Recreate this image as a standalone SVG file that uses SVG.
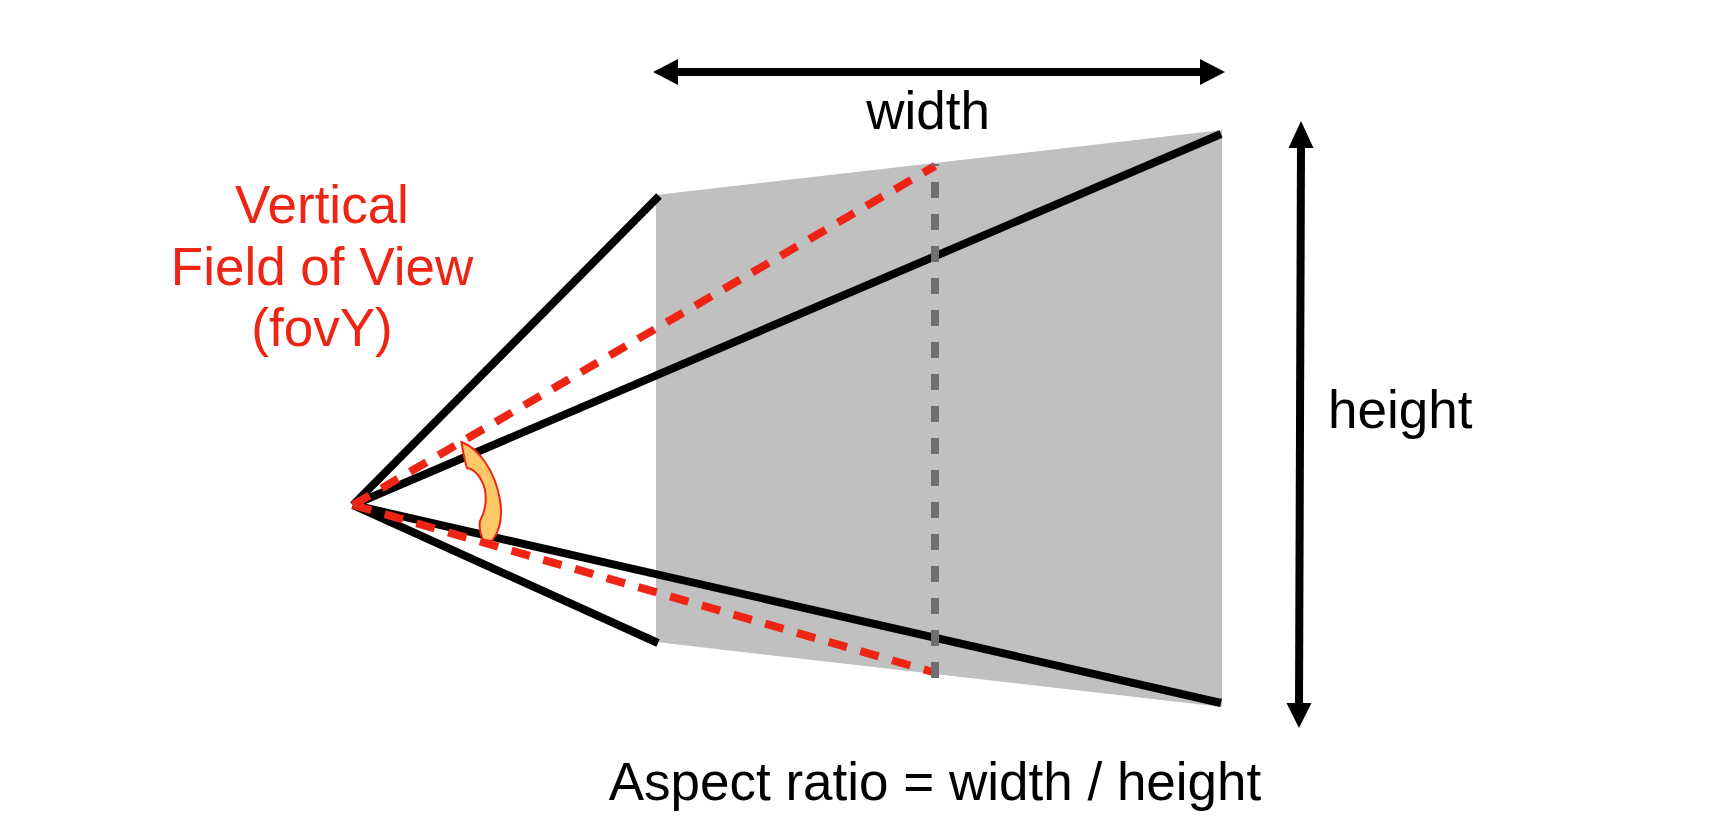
<svg xmlns="http://www.w3.org/2000/svg" width="1730" height="834" viewBox="0 0 1730 834">
<style>
.blk{stroke:#000;stroke-width:8;fill:none;stroke-linecap:butt}
.red{stroke:#ee2515;stroke-width:8;fill:none;stroke-dasharray:19 14}
.gdash{stroke:#6f6f6f;stroke-width:8;fill:none;stroke-dasharray:16 16;stroke-dashoffset:14}
.t{font-family:"Liberation Sans",Arial,sans-serif;font-size:53px}
.tr{fill:#ee2515}
</style>
<rect width="1730" height="834" fill="#fff"/>
<g id="plane">
<polygon points="656,195 1222,130 1222,707 656,642" fill="#c0c0c0"/>
</g>
<g id="connectors">
<line class="blk" x1="353" y1="505" x2="659" y2="196"/>
<line class="blk" x1="353" y1="505" x2="658" y2="643"/>
<line class="blk" x1="353" y1="505" x2="1221" y2="134"/>
<line class="blk" x1="353" y1="505" x2="1221" y2="703"/>
</g>
<g id="angle">
<path d="M461.5 442 C478 448,495 470,500 500 C503 518,499 532,492 541 L483 540 C480 533,479 526,480 521 C484 514,487 503,485 490 C482 478,475 469,467 468 C465 462,463 452,461.5 442 Z" fill="#ffc866" stroke="#ee2515" stroke-width="2"/>
</g>
<g id="fov-rays">
<line class="red" x1="353" y1="505" x2="935" y2="166"/>
<line class="red" x1="353" y1="505" x2="933" y2="672"/>
</g>
<g id="center-line">
<line class="gdash" x1="935" y1="164" x2="935" y2="678"/>
</g>
<g id="width-arrow">
<line x1="676" y1="72" x2="1202" y2="72" stroke="#000" stroke-width="8"/>
<polygon points="653,72 678,59 678,85" fill="#000"/>
<polygon points="1225,72 1200,59 1200,85" fill="#000"/>
<text class="t" x="928" y="129" text-anchor="middle">width</text>
</g>
<g id="height-arrow">
<line x1="1301" y1="146" x2="1299" y2="705" stroke="#000" stroke-width="8"/>
<polygon points="1301,121 1313.5,148 1288.5,148" fill="#000"/>
<polygon points="1299,728 1311.5,703 1286.5,703" fill="#000"/>
<text class="t" x="1328" y="428">height</text>
</g>
<g id="fov-label">
<text class="t tr" x="322" y="223" text-anchor="middle">Vertical</text>
<text class="t tr" x="322" y="285" text-anchor="middle">Field of View</text>
<text class="t tr" x="322" y="346" text-anchor="middle">(fovY)</text>
</g>
<g id="aspect-label">
<text class="t" x="935" y="800" text-anchor="middle">Aspect ratio = width / height</text>
</g>
</svg>
